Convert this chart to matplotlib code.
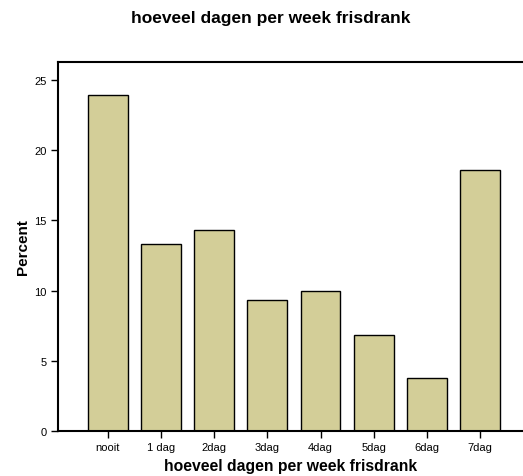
import numpy as np
import matplotlib
matplotlib.use('Agg')
import matplotlib.pyplot as plt

plt.rcParams['font.family'] = ['Liberation Sans', 'DejaVu Sans']

categories = ['nooit', '1 dag', '2dag', '3dag', '4dag', '5dag', '6dag', '7dag']
percent = [23.9, 13.3, 14.3, 9.3, 10.0, 6.8, 3.8, 18.6]
yticks = [0, 5, 10, 15, 20, 25]

fig = plt.figure(figsize=(5.23, 4.77), dpi=100)
ax = fig.add_axes([58/523, 45/477, 1 - 58/523, 369.5/477])

x = np.arange(len(categories))
ax.bar(x, percent, width=0.75, color='#d3ce98', edgecolor='black', linewidth=1.0)

ax.set_xlim(-0.94, 7.81)
ax.set_ylim(0, 26.3)
ax.set_xticks(x)
ax.set_xticklabels(categories, fontsize=8)
ax.set_yticks(yticks)
ax.set_yticklabels([str(v) for v in yticks], fontsize=8)
ax.tick_params(direction='out', length=5, width=1.0, pad=3)

ax.spines['right'].set_visible(False)
for s in ['left', 'bottom', 'top']:
    ax.spines[s].set_linewidth(1.5)

ax.set_xlabel('hoeveel dagen per week frisdrank', fontsize=11.3, fontweight='bold', labelpad=4)
ax.set_ylabel('Percent', fontsize=11, fontweight='bold', labelpad=3)

fig.text(271/523, 1 - 19/477, 'hoeveel dagen per week frisdrank', fontsize=12.5,
         fontweight='bold', ha='center', va='center')

fig.savefig('out.png', dpi=100)
